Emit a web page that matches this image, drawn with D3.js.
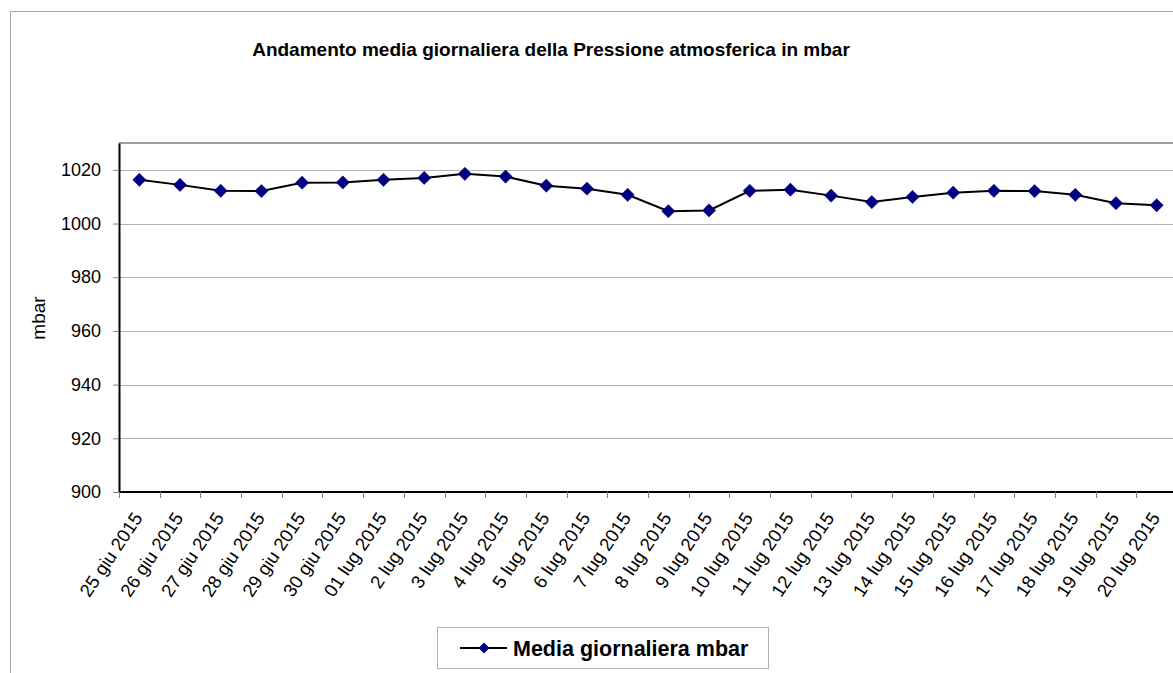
<!DOCTYPE html>
<html>
<head>
<meta charset="utf-8">
<script src="https://cdn.jsdelivr.net/npm/d3@7"></script>
<style>
  html, body { margin: 0; padding: 0; background: #fff; }
  svg { display: block; font-family: "Liberation Sans", Arial, sans-serif; }
</style>
</head>
<body>
<svg id="chart" width="1173" height="673"></svg>
<script>
// Daily mean atmospheric pressure (mbar), 25 June – 20 July 2015
const dates = [
  "25 giu 2015", "26 giu 2015", "27 giu 2015", "28 giu 2015", "29 giu 2015",
  "30 giu 2015", "01 lug 2015", "2 lug 2015", "3 lug 2015", "4 lug 2015",
  "5 lug 2015", "6 lug 2015", "7 lug 2015", "8 lug 2015", "9 lug 2015",
  "10 lug 2015", "11 lug 2015", "12 lug 2015", "13 lug 2015", "14 lug 2015",
  "15 lug 2015", "16 lug 2015", "17 lug 2015", "18 lug 2015", "19 lug 2015",
  "20 lug 2015"
];
const pressure = [
  1016.3, 1014.4, 1012.2, 1012.1, 1015.2, 1015.3, 1016.3, 1017.0, 1018.5, 1017.5,
  1014.1, 1013.0, 1010.7, 1004.6, 1004.9, 1012.2, 1012.6, 1010.4, 1008.0, 1009.9,
  1011.5, 1012.2, 1012.1, 1010.7, 1007.6, 1006.8
];
const yTicks = [900, 920, 940, 960, 980, 1000, 1020];
const yDomain = [900, 1030];
const titleText = "Andamento media giornaliera della Pressione atmosferica in mbar";
const yTitle = "mbar";
const seriesName = "Media giornaliera mbar";

const svg = d3.select("#chart");
const plot = { left: 119, top: 143, right: 1177, bottom: 492 };

// outer chart frame
svg.append("rect")
  .attr("x", 10.5).attr("y", 11.5)
  .attr("width", 1200).attr("height", 700)
  .attr("fill", "#fff").attr("stroke", "#a6a6a6").attr("stroke-width", 1);

// title
svg.append("text")
  .attr("x", 551).attr("y", 56)
  .attr("text-anchor", "middle")
  .attr("font-size", 19).attr("font-weight", "bold")
  .attr("fill", "#000")
  .text(titleText);

const x = d3.scaleBand().domain(dates).range([plot.left, plot.right]).padding(0);
const y = d3.scaleLinear().domain(yDomain).range([plot.bottom, plot.top]);

// gridlines
svg.append("g")
  .selectAll("line")
  .data(yTicks.filter(t => t > yDomain[0]))
  .join("line")
  .attr("x1", plot.left).attr("x2", plot.right)
  .attr("y1", d => Math.round(y(d)) + 0.5).attr("y2", d => Math.round(y(d)) + 0.5)
  .attr("stroke", "#b3b3b3").attr("stroke-width", 1);

// plot frame top
svg.append("line")
  .attr("x1", plot.left).attr("x2", plot.right)
  .attr("y1", plot.top).attr("y2", plot.top)
  .attr("stroke", "#808080").attr("stroke-width", 1.5);

// y axis
const yAxis = svg.append("g")
  .attr("transform", `translate(${plot.left},0)`)
  .call(d3.axisLeft(y).tickValues(yTicks).tickSize(6).tickSizeOuter(0)
    .tickPadding(12).tickFormat(d3.format("d")));
yAxis.select(".domain").attr("stroke", "#000").attr("stroke-width", 2);
yAxis.selectAll(".tick line").attr("stroke", "#808080");
yAxis.selectAll(".tick text")
  .attr("font-size", 18).attr("fill", "#000")
  .attr("font-family", "Liberation Sans, Arial, sans-serif");

// x axis: ticks sit between categories
const xAxisG = svg.append("g").attr("transform", `translate(0,${plot.bottom})`);
xAxisG.append("line")
  .attr("x1", plot.left).attr("x2", plot.right)
  .attr("y1", 0).attr("y2", 0)
  .attr("stroke", "#000").attr("stroke-width", 2);
xAxisG.selectAll("line.tk")
  .data(dates)
  .join("line")
  .attr("class", "tk")
  .attr("x1", d => Math.round(x(d)) + 0.5).attr("x2", d => Math.round(x(d)) + 0.5)
  .attr("y1", 0).attr("y2", 6)
  .attr("stroke", "#808080");
xAxisG.selectAll("text")
  .data(dates)
  .join("text")
  .attr("transform", d => `translate(${x(d) + x.bandwidth() / 2 + 4},${26}) rotate(-56)`)
  .attr("text-anchor", "end")
  .attr("font-size", 18.5).attr("fill", "#000")
  .text(d => d);

// y axis title
svg.append("text")
  .attr("transform", `translate(45,318) rotate(-90)`)
  .attr("text-anchor", "middle")
  .attr("font-size", 19).attr("fill", "#000")
  .text(yTitle);

// series line
const cx = d => x(d) + x.bandwidth() / 2;
const line = d3.line()
  .x((d, i) => cx(dates[i]))
  .y(d => y(d));
svg.append("path")
  .datum(pressure)
  .attr("d", line)
  .attr("fill", "none")
  .attr("stroke", "#000").attr("stroke-width", 2);

// diamond markers
svg.append("g")
  .selectAll("path")
  .data(pressure)
  .join("path")
  .attr("transform", (d, i) => `translate(${cx(dates[i])},${y(d)}) rotate(45)`)
  .attr("d", d3.symbol().type(d3.symbolSquare).size(88))
  .attr("fill", "#000080").attr("stroke", "#000080").attr("stroke-width", 0.5);

// legend
const lg = svg.append("g");
lg.append("rect")
  .attr("x", 437.5).attr("y", 627.5).attr("width", 331).attr("height", 41)
  .attr("fill", "#fff").attr("stroke", "#b3b3b3");
lg.append("line")
  .attr("x1", 460).attr("x2", 507).attr("y1", 648).attr("y2", 648)
  .attr("stroke", "#000").attr("stroke-width", 2);
lg.append("path")
  .attr("transform", "translate(484,648) rotate(45)")
  .attr("d", d3.symbol().type(d3.symbolSquare).size(60))
  .attr("fill", "#000080");
lg.append("text")
  .attr("x", 513).attr("y", 656)
  .attr("font-size", 21.5).attr("font-weight", "bold").attr("fill", "#000")
  .text(seriesName);
</script>
</body>
</html>
